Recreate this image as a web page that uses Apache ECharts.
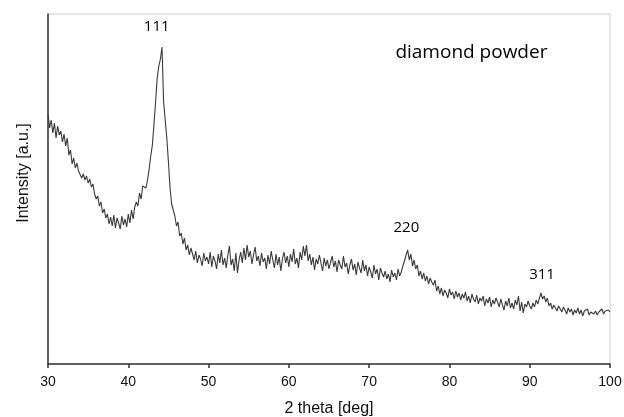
<!DOCTYPE html>
<html>
<head>
<meta charset="utf-8">
<script src="https://cdn.jsdelivr.net/npm/echarts@6/dist/echarts.min.js"></script>
<style>html,body{margin:0;padding:0;background:#fff}#c{width:624px;height:417px}</style>
</head>
<body>
<div id="c"></div>
<script>
// 2 theta grid: 30 to 100 deg in 0.2 deg steps
const thetaStart = 30;
const thetaStep = 0.2;
// Intensity (a.u.), one row per 2 deg
const intensity = [
  250, 236, 244, 231, 241, 226, 238, 229, 233, 222,
  230, 218, 226, 209, 214, 200, 206, 196, 201, 193,
  194, 186, 190, 184, 188, 181, 185, 177, 180, 170,
  165, 168, 158, 162, 151, 155, 146, 150, 140, 147,
  138, 149, 136, 146, 141, 135, 148, 139, 145, 137,
  150, 141, 154, 145, 157, 162, 158, 171, 165, 178,
  180, 176, 184, 195, 208, 219, 240, 262, 286, 298,
  305, 317, 262, 244, 226, 202, 176, 160, 154, 148,
  138, 142, 128, 131, 120, 126, 114, 119, 109, 116,
  110, 104, 113, 101, 109, 105, 98, 111, 103, 107,
  100, 112, 97, 108, 103, 95, 110, 101, 114, 99,
  106, 96, 109, 118, 99, 105, 93, 111, 91, 104,
  112, 101, 116, 104, 119, 107, 113, 100, 109, 117,
  103, 108, 98, 111, 102, 106, 95, 109, 100, 113,
  104, 96, 110, 99, 107, 93, 105, 112, 101, 108,
  97, 110, 102, 115, 100, 106, 96, 112, 104, 118,
  108, 119, 103, 110, 99, 107, 94, 105, 100, 109,
  101, 93, 106, 98, 104, 95, 102, 108, 97, 103,
  92, 104, 99, 95, 108, 97, 101, 90, 99, 105,
  94, 100, 89, 102, 96, 91, 104, 93, 99, 88,
  97, 92, 86, 99, 90, 95, 84, 96, 91, 87,
  93, 85, 90, 82, 94, 87, 91, 84, 95, 88,
  92, 98, 103, 109, 114, 104, 110, 98, 104, 95,
  99, 88, 93, 85, 91, 83, 88, 80, 86, 82,
  79, 84, 73, 78, 70, 76, 68, 74, 71, 66,
  75, 69, 72, 65, 73, 67, 71, 64, 70, 66,
  72, 63, 68, 61, 70, 65, 62, 69, 60, 66,
  63, 68, 58, 65, 61, 67, 57, 64, 60, 66,
  62, 57, 65, 59, 54, 63, 58, 66, 56, 61,
  55, 64, 59, 68, 53, 62, 51, 60, 57, 63,
  58, 55, 61, 57, 64, 60, 62, 71, 65, 68,
  62, 66, 58, 61, 55, 59, 57, 53, 58, 55,
  52, 57, 54, 50, 56, 52, 55, 49, 54, 51,
  56, 50, 54, 48, 53, 51, 55, 49, 52, 54,
  50, 53, 49, 52, 51, 55, 50, 53, 51, 54,
  52
];
// Peak annotations
const peakLabels = ['111', '220', '311'];
const peakLabelX = [43.6, 74.7, 91.6];
const peakLabelY = [337, 136, 89];
// Sample label
const sampleLabel = 'diamond powder';
const sampleLabelX = 82.8;
const sampleLabelY = 311;
const xTicks = [30, 40, 50, 60, 70, 80, 90, 100];

const seriesData = intensity.map((v, i) => [+(thetaStart + i * thetaStep).toFixed(1), v]);

const annotFont = '"Open Sans", "Noto Sans", sans-serif';
const axisFont = '"Liberation Sans", Arial, sans-serif';
const labelItem = (x, y, text, size) => ({
  value: [x, y], name: text,
  label: {show: true, position: [0, 0], align: 'center', verticalAlign: 'middle',
    formatter: text, fontFamily: annotFont, fontSize: size, color: '#000', opacity: 1}
});
const annotData = peakLabels.map((t, i) => labelItem(peakLabelX[i], peakLabelY[i], t, 15))
  .concat([labelItem(sampleLabelX, sampleLabelY, sampleLabel, 19)]);

const chart = echarts.init(document.getElementById('c'), null, {renderer: 'canvas'});
chart.setOption({
  animation: false,
  backgroundColor: '#fff',
  grid: {left: 48, right: 14, top: 14, bottom: 53, outerBoundsMode: 'none', containLabel: false,
    show: true, borderColor: '#cfcfcf', borderWidth: 1},
  xAxis: {
    type: 'value', min: 30, max: 100, interval: 10,
    name: '2 theta [deg]', nameLocation: 'middle', nameGap: 37,
    nameTextStyle: {fontFamily: axisFont, fontSize: 16, color: '#111'},
    axisLine: {show: true, lineStyle: {color: '#333', width: 1.5}},
    axisTick: {show: true, length: 4, lineStyle: {color: '#333', width: 1.5}},
    axisLabel: {fontFamily: axisFont, fontSize: 14, color: '#111', margin: 11,
      formatter: v => xTicks.includes(v) ? String(v) : ''},
    splitLine: {show: false}
  },
  yAxis: {
    type: 'value', min: 0, max: 350,
    name: 'Intensity [a.u.]', nameLocation: 'middle', nameGap: 16,
    nameTextStyle: {fontFamily: axisFont, fontSize: 16, color: '#111', padding: [0, 0, 0, 32]},
    axisLine: {show: true, lineStyle: {color: '#333', width: 1.5}},
    axisTick: {show: false}, axisLabel: {show: false}, splitLine: {show: false}
  },
  series: [
    {
      type: 'line', data: seriesData, showSymbol: false, symbol: 'none',
      lineStyle: {color: '#3a3a3a', width: 1.1}, z: 3
    },
    {
      type: 'scatter', symbolSize: 1, silent: true, itemStyle: {color: '#fff', opacity: 0},
      data: annotData
    }
  ]
});
</script>
</body>
</html>
